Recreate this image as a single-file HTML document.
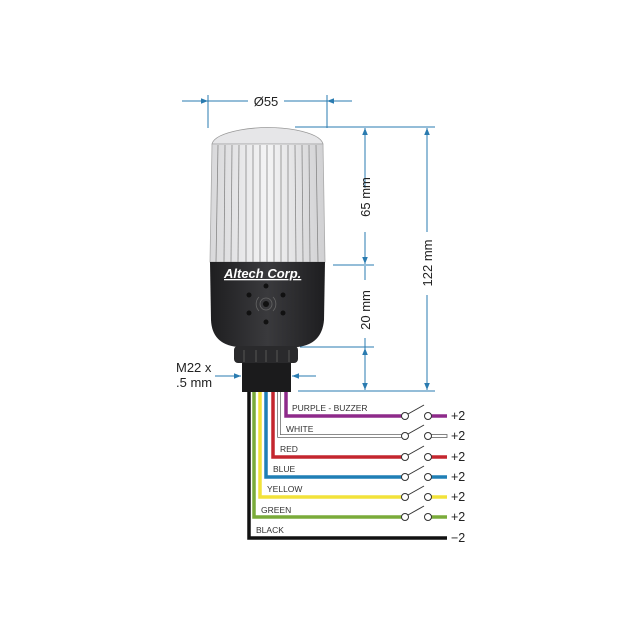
<!DOCTYPE html>
<html><head><meta charset="utf-8"><style>
html,body{margin:0;padding:0;background:#fff;}
svg{display:block;font-family:"Liberation Sans",sans-serif;}
</style></head><body>
<svg width="642" height="642" viewBox="0 0 642 642" xmlns="http://www.w3.org/2000/svg">
<defs>
<marker id="a" viewBox="0 0 10 10" refX="10" refY="5" markerWidth="7" markerHeight="7" orient="auto-start-reverse"><path d="M0,1 L10,5 L0,9 Z" fill="#2a7bb0"/></marker>
<linearGradient id="body" x1="0" x2="1"><stop offset="0" stop-color="#1e1e20"/><stop offset="0.5" stop-color="#3a3a3d"/><stop offset="1" stop-color="#1e1e20"/></linearGradient>
<linearGradient id="lens" x1="0" x2="1"><stop offset="0" stop-color="#d8d8da"/><stop offset="0.5" stop-color="#f4f4f5"/><stop offset="1" stop-color="#d0d0d2"/></linearGradient>
</defs>
<g stroke="#2a7bb0" stroke-width="1" fill="none">
<!-- Ø55 -->
<line x1="208" y1="95" x2="208" y2="128"/>
<line x1="327" y1="95" x2="327" y2="128"/>
<line x1="182" y1="101" x2="208" y2="101" marker-end="url(#a)"/>
<line x1="352" y1="101" x2="327" y2="101" marker-end="url(#a)"/>
<line x1="208" y1="101" x2="248" y2="101"/>
<line x1="284" y1="101" x2="327" y2="101"/>
<!-- extension lines -->
<line x1="295" y1="127" x2="435" y2="127"/>
<line x1="333" y1="265" x2="374" y2="265"/>
<line x1="300" y1="347" x2="374" y2="347"/>
<line x1="298" y1="391" x2="435" y2="391"/>
<!-- 65 -->
<line x1="365" y1="150" x2="365" y2="128" marker-end="url(#a)"/>
<line x1="365" y1="150" x2="365" y2="188"/>
<line x1="365" y1="232" x2="365" y2="264" marker-end="url(#a)"/>
<!-- 20 -->
<line x1="365" y1="266" x2="365" y2="280"/>
<line x1="365" y1="338" x2="365" y2="348"/>
<line x1="365" y1="365" x2="365" y2="348" marker-end="url(#a)"/>
<line x1="365" y1="365" x2="365" y2="390" marker-end="url(#a)"/>
<!-- 122 -->
<line x1="427" y1="160" x2="427" y2="128" marker-end="url(#a)"/>
<line x1="427" y1="160" x2="427" y2="232"/>
<line x1="427" y1="295" x2="427" y2="390" marker-end="url(#a)"/>
<!-- M22 -->
<line x1="215" y1="376" x2="241" y2="376" marker-end="url(#a)"/>
<line x1="316" y1="376" x2="292" y2="376" marker-end="url(#a)"/>
</g>
<g fill="#222" font-size="13">
<text x="266" y="106" text-anchor="middle">Ø55</text>
<text transform="translate(370,197) rotate(-90)" text-anchor="middle">65 mm</text>
<text transform="translate(370,310) rotate(-90)" text-anchor="middle">20 mm</text>
<text transform="translate(432,263) rotate(-90)" text-anchor="middle">122 mm</text>
<text x="176" y="372">M22 x</text>
<text x="176" y="387">.5 mm</text>
</g>
<!-- lamp -->
<path d="M212,144 Q214,135 240,130 Q268,125 296,130 Q321,135 323,144 Z" fill="#e6e6e8" stroke="#999" stroke-width="0.8"/>
<path d="M212,144 L323,144 L325,262 L210,262 Z" fill="url(#lens)" stroke="#aaa" stroke-width="0.8"/>
<g stroke="#888" stroke-width="0.8">
<line x1="218" y1="145" x2="216" y2="262"/><line x1="225" y1="145" x2="224" y2="262"/><line x1="232" y1="145" x2="231" y2="262"/><line x1="239" y1="145" x2="238" y2="262"/><line x1="246" y1="145" x2="246" y2="262"/><line x1="253" y1="145" x2="253" y2="262"/><line x1="260" y1="145" x2="260" y2="262"/><line x1="267" y1="145" x2="267" y2="262"/><line x1="274" y1="145" x2="274" y2="262"/><line x1="281" y1="145" x2="281" y2="262"/><line x1="288" y1="145" x2="288" y2="262"/><line x1="295" y1="145" x2="296" y2="262"/><line x1="302" y1="145" x2="303" y2="262"/><line x1="309" y1="145" x2="310" y2="262"/><line x1="316" y1="145" x2="318" y2="262"/>
</g>
<path d="M210,262 L325,262 L324,320 Q322,344 298,347 L237,347 Q212,344 211,320 Z" fill="url(#body)"/>
<text x="224" y="278" fill="#fff" font-size="13" font-weight="bold" font-style="italic" text-decoration="underline">Altech Corp.</text>
<g fill="#111"><circle cx="266" cy="286" r="2.5"/><circle cx="249" cy="295" r="2.5"/><circle cx="283" cy="295" r="2.5"/><circle cx="249" cy="313" r="2.5"/><circle cx="283" cy="313" r="2.5"/><circle cx="266" cy="322" r="2.5"/><circle cx="266" cy="304" r="3"/></g>
<g fill="none" stroke="#666" stroke-width="0.8"><circle cx="266" cy="304" r="6"/><path d="M259,297 A10,10 0 0 0 259,311 M273,297 A10,10 0 0 1 273,311"/></g>
<rect x="234" y="346" width="64" height="17" rx="4" fill="#2a2a2c"/>
<g stroke="#555" stroke-width="1"><line x1="244" y1="350" x2="244" y2="362"/><line x1="256" y1="350" x2="256" y2="362"/><line x1="266" y1="350" x2="266" y2="362"/><line x1="277" y1="350" x2="277" y2="362"/><line x1="289" y1="350" x2="289" y2="362"/></g>
<rect x="242" y="363" width="49" height="29" fill="#1b1b1c"/>
<!-- wires -->
<g fill="none" stroke-width="3.5" stroke-linejoin="miter">
<path d="M249,392 V538 H447" stroke="#111"/>
<path d="M254,392 V517 H405" stroke="#7aab3a"/>
<path d="M260,392 V497 H405" stroke="#f2e23a"/>
<path d="M266,392 V477 H405" stroke="#1f7fb5"/>
<path d="M273,392 V457 H405" stroke="#c4262e"/>
<path d="M286,392 V416 H405" stroke="#8e2a8a"/>
</g>
<path d="M279,392 V436 H405" fill="none" stroke="#666" stroke-width="3.5"/>
<path d="M279,392 V436 H405" fill="none" stroke="#fff" stroke-width="2"/>
<g stroke-width="3.5">
<line x1="431" y1="416" x2="447" y2="416" stroke="#8e2a8a"/>
<line x1="431" y1="457" x2="447" y2="457" stroke="#c4262e"/>
<line x1="431" y1="477" x2="447" y2="477" stroke="#1f7fb5"/>
<line x1="431" y1="497" x2="447" y2="497" stroke="#f2e23a"/>
<line x1="431" y1="517" x2="447" y2="517" stroke="#7aab3a"/>
</g>
<rect x="431" y="434.5" width="16" height="3" fill="#fff" stroke="#666" stroke-width="0.8"/>
<g fill="#fff" stroke="#333" stroke-width="1">
<circle cx="405" cy="416" r="3.5"/><circle cx="428" cy="416" r="3.5"/>
<circle cx="405" cy="436" r="3.5"/><circle cx="428" cy="436" r="3.5"/>
<circle cx="405" cy="457" r="3.5"/><circle cx="428" cy="457" r="3.5"/>
<circle cx="405" cy="477" r="3.5"/><circle cx="428" cy="477" r="3.5"/>
<circle cx="405" cy="497" r="3.5"/><circle cx="428" cy="497" r="3.5"/>
<circle cx="405" cy="517" r="3.5"/><circle cx="428" cy="517" r="3.5"/>
</g>
<g stroke="#333" stroke-width="1">
<line x1="408" y1="414" x2="424" y2="405"/><line x1="408" y1="434" x2="424" y2="425"/><line x1="408" y1="455" x2="424" y2="446"/><line x1="408" y1="475" x2="424" y2="466"/><line x1="408" y1="495" x2="424" y2="486"/><line x1="408" y1="515" x2="424" y2="506"/>
</g>
<g fill="#333" font-size="8.5">
<text x="292" y="411">PURPLE - BUZZER</text>
<text x="286" y="432">WHITE</text>
<text x="280" y="452">RED</text>
<text x="273" y="472">BLUE</text>
<text x="267" y="492">YELLOW</text>
<text x="261" y="513">GREEN</text>
<text x="256" y="533">BLACK</text>
</g>
<g fill="#222" font-size="12.5">
<text x="451" y="420">+2</text><text x="451" y="440">+2</text><text x="451" y="461">+2</text><text x="451" y="481">+2</text><text x="451" y="501">+2</text><text x="451" y="521">+2</text><text x="451" y="542">−2</text>
</g>
</svg>
</body></html>
